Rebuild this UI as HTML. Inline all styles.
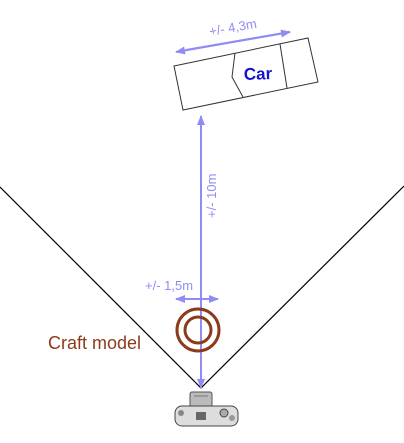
<!DOCTYPE html>
<html><head><meta charset="utf-8"><style>
html,body{margin:0;padding:0;background:#fff;width:404px;height:443px;overflow:hidden}
svg{display:block}
text{font-family:"Liberation Sans",sans-serif}
</style></head><body>
<svg width="404" height="443" viewBox="0 0 404 443">
<defs>
<marker id="ah" markerWidth="10" markerHeight="8" refX="9" refY="4" orient="auto" markerUnits="userSpaceOnUse"><path d="M0,0 L10,4 L0,8 Z" fill="#8f8cf5"/></marker>
</defs>
<polyline points="0,187 201,388 404,186" fill="none" stroke="#000" stroke-width="1.2"/>
<g fill="none" stroke="#333" stroke-width="1">
<polygon points="174,66 308,38 318,82 183,110" fill="#fff"/>
<polyline points="235,53 232,77 243,97"/>
<line x1="280" y1="44" x2="287" y2="88"/>
</g>
<text x="244" y="80" font-size="17" font-weight="bold" fill="#1414cc" transform="rotate(-2 244 80)">Car</text>
<g>
<line x1="186" y1="50" x2="290" y2="32" stroke="#8f8cf5" stroke-width="2" marker-end="url(#ah)"/>
<line x1="290" y1="32" x2="176" y2="52" stroke="#8f8cf5" stroke-width="2" marker-end="url(#ah)"/>
</g>
<text x="210" y="36" font-size="13" fill="#8f8cf5" transform="rotate(-10 210 36)">+/- 4,3m</text>
<line x1="201" y1="380" x2="201" y2="116" stroke="#8f8cf5" stroke-width="2" marker-end="url(#ah)"/>
<line x1="201" y1="300" x2="201" y2="388" stroke="#8f8cf5" stroke-width="2" marker-end="url(#ah)"/>
<text x="0" y="0" font-size="13" fill="#8f8cf5" transform="translate(216 218) rotate(-90)">+/- 10m</text>
<g>
<line x1="186" y1="299" x2="218" y2="299" stroke="#8f8cf5" stroke-width="2" marker-end="url(#ah)"/>
<line x1="210" y1="299" x2="176" y2="299" stroke="#8f8cf5" stroke-width="2" marker-end="url(#ah)"/>
</g>
<text x="145" y="290" font-size="13" fill="#8f8cf5">+/- 1,5m</text>
<g fill="none" stroke="#8b3a1a" stroke-width="3">
<circle cx="198" cy="330" r="21"/>
<circle cx="198" cy="330" r="13"/>
</g>
<text x="48" y="349" font-size="18" fill="#8b3a1a">Craft model</text>
<g>
<rect x="190" y="392" width="22" height="15" rx="2" fill="#bbb" stroke="#555"/>
<line x1="194" y1="396" x2="208" y2="396" stroke="#777"/>
<rect x="175" y="406" width="63" height="20" rx="7" fill="#ddd" stroke="#444"/>
<circle cx="181" cy="413" r="3" fill="#888"/>
<circle cx="224" cy="413" r="4" fill="#aaa" stroke="#444"/>
<circle cx="232" cy="418" r="3" fill="#999"/>
<rect x="196" y="412" width="10" height="8" fill="#666"/>
</g>
</svg>
</body></html>
